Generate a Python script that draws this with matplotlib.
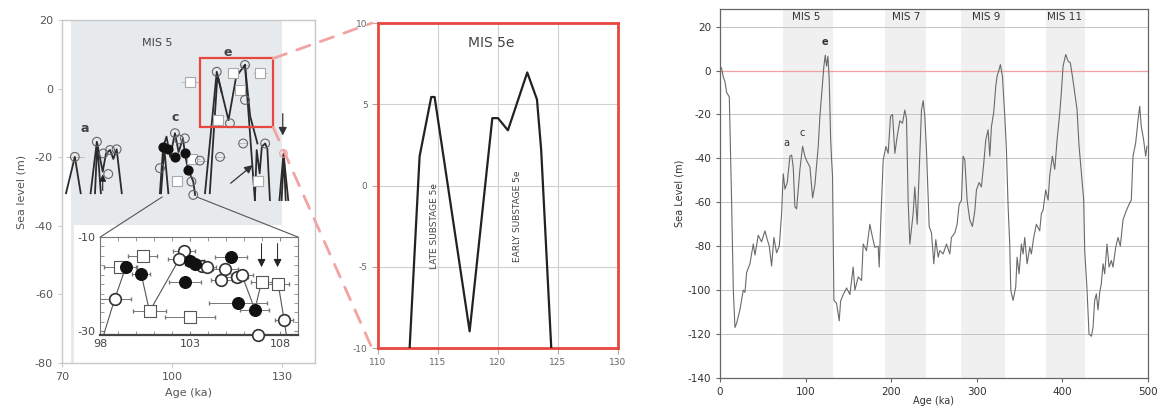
import matplotlib.pyplot as plt
from matplotlib.patches import Rectangle, ConnectionPatch

plt.rcParams['axes.unicode_minus'] = False

# ---- left panel: MIS 5 sea level indicators (schematic) ----
a1_age = [71.1, 73.5, 75.1]
a1_sl = [-30.5, -19.9, -30.5]
a2_age = [77.8, 79.5, 81.1, 82.0, 83.1, 84.0, 84.9, 86.3]
a2_sl = [-30.5, -15.5, -24.2, -18.9, -17.9, -20.5, -17.7, -30.5]
a3_age = [79.0, 79.6, 80.6]
a3_sl = [-30.5, -16.0, -30.5]
c1_age = [96.7, 97.6, 98.5, 99.5, 100.8, 101.8, 103.0, 103.5, 104.4, 105.8, 106.3]
c1_sl = [-30.5, -16.9, -14.0, -19.9, -13.0, -18.5, -14.5, -18.9, -23.7, -27.1, -31.0]
c2_age = [97.0, 97.9, 99.0]
c2_sl = [-30.5, -17.5, -30.5]
e1_age = [109.0, 112.2, 115.4, 117.5, 119.9, 122.6]
e1_sl = [-30.5, 4.9, -9.2, 3.5, 6.9, -32.5]
e2_age = [110.3, 112.4, 113.5]
e2_sl = [-30.5, 4.0, -1.0]
e3_age = [119.9, 121.3, 123.3]
e3_sl = [6.9, -8.0, -16.0]
r1_age = [122.6, 123.1, 123.9, 124.5, 125.4, 126.0, 126.7]
r1_sl = [-32.5, -17.9, -24.7, -16.9, -16.0, -17.5, -32.5]
f1_age = [129.3, 130.4, 131.7]
f1_sl = [-32.5, -18.9, -32.5]
f2_age = [129.9, 130.5, 131.0]
f2_sl = [-32.5, -19.5, -32.5]

open_age = [73.5, 79.5, 81.3, 83.1, 84.9, 82.6, 100.8, 103.5, 96.7, 105.8, 105.3,
            101.9, 112.2, 119.9, 119.9, 115.8, 119.4, 113.1, 107.6, 125.4]
open_sl = [-19.9, -15.5, -18.9, -17.9, -17.7, -24.9, -13.0, -14.5, -23.2, -31.0, -27.1,
           -14.8, 4.9, 6.9, -3.3, -10.1, -16.0, -19.9, -21.0, -16.0]
open_err = [2.5, 0, 0, 0, 0, 0, 0, 0, 0, 0, 0, 0, 0, 1.5, 0, 0, 1.0, 1.5, 2.0, 0]
fill_age = [97.6, 100.8, 104.4, 103.5, 99.0]
fill_sl = [-16.9, -19.9, -23.7, -18.9, -17.5]
sq_age = [104.9, 124.0, 118.5, 112.5, 116.7, 101.3, 105.5, 123.5]
sq_sl = [2.0, 4.5, -0.4, -9.2, 4.5, -27.0, -20.5, -27.0]
sq_err = [2.5, 2.0, 1.5, 1.5, 1.5, 1.5, 2.0, 1.5]

# ---- inset: MIS 5c detail ----
in_fill_age = [99.43, 100.29, 102.73, 103.0, 103.3, 105.29, 105.66, 106.6]
in_fill_sl = [-16.4, -17.9, -19.6, -15.0, -15.8, -14.2, -24.0, -25.4]
in_fill_err = [0.6, 0.5, 0.9, 0.8, 0.6, 0.9, 1.6, 0.8]
in_open_age = [98.82, 102.67, 102.4, 103.68, 103.95, 104.96, 104.74, 105.6, 105.88, 108.22, 106.75]
in_open_sl = [-23.1, -13.0, -14.7, -16.1, -16.3, -16.7, -19.1, -18.4, -18.1, -27.6, -30.7]
in_open_err = [0.9, 0.6, 0.6, 0.5, 0.5, 0.7, 0.6, 0.6, 0.6, 0.5, 0.0]
in_sq_age = [100.38, 99.1, 100.75, 103.0, 106.97, 107.9]
in_sq_sl = [-14.0, -16.3, -25.8, -26.9, -19.5, -20.0]
in_sq_err = [0.8, 0.9, 0.9, 1.4, 0.6, 0.6]
in_l1_age = [98.2, 98.82, 99.43]
in_l1_sl = [-30.8, -23.1, -16.4]
in_l2_age = [100.29, 100.75, 102.4]
in_l2_sl = [-17.9, -25.8, -14.7]
in_l3_age = [105.88, 106.6, 106.97]
in_l3_sl = [-18.1, -25.4, -19.5]
in_l4_age = [107.9, 108.22, 108.35]
in_l4_sl = [-20.0, -27.6, -30.8]
in_arrow_age = [106.97, 107.86]

# ---- middle panel: MIS 5e ----
mis5e_age = [112.64, 113.47, 114.44, 114.72, 117.64, 119.53, 120.0, 120.83, 122.44, 123.25, 123.6, 124.44]
mis5e_sl = [-10.0, 1.8, 5.45, 5.45, -8.97, 4.15, 4.15, 3.4, 6.96, 5.3, 2.2, -10.0]

# ---- right panel: 500 kyr sea level curve ----
age = [0, 1.9, 3.9, 5.8, 7.8, 10.9, 13.6, 15.6, 17.5, 19.5, 23.3, 27.2, 29.2, 31.1, 35, 38.9,
       40.9, 44.7, 48.6, 52.5, 55.3, 57.6, 60.3, 63, 66.1, 69.3, 72, 73.9, 75.9, 78.6, 81.7,
       83.7, 85.6, 87.5, 89.5, 93.4, 96.5, 99.2, 101.2, 105.1, 108.2, 110.9, 114.8, 116.7,
       119.8, 121.4, 123, 124.5, 126.1, 127.6, 129.2, 130.4, 131.5, 133.1, 136.2, 139.3,
       140.9, 144, 147.9, 151.8, 155.6, 157.6, 161.5, 165.4, 167.3, 171.2, 175.1, 178.2,
       180.9, 184.8, 186, 187.9, 190.7, 193.8, 196.5, 199.2, 201.6, 204.3, 207, 210.1,
       213.2, 215.9, 217.9, 219.8, 221.8, 225.7, 227.6, 230.4, 235.4, 237.4, 239.3, 241.2,
       244.4, 247.1, 249.8, 252.1, 254.9, 256.8, 260.7, 264.6, 268.5, 270.4, 274.3, 277,
       279.4, 282.1, 284, 286, 288.7, 291.8, 294.9, 297.7, 299.6, 302.7, 305.4, 308.2,
       310.5, 313.2, 315.2, 317.1, 319.8, 322.2, 323.7, 326.1, 327.6, 330, 332.7, 334.6,
       336.6, 338.5, 339.7, 342.4, 345.5, 347.1, 349.4, 352.1, 354.1, 356, 358.8, 361.9,
       363.8, 366.5, 369.6, 373.5, 375.5, 377.4, 380.5, 383.3, 385.2, 388.3, 391.1, 393.8,
       396.9, 398.8, 400.8, 403.9, 406.6, 409.3, 411.7, 414.4, 417.1, 419.5, 422.2, 424.9,
       426.1, 428.8, 431.1, 433.9, 435.8, 437.7, 439.7, 441.6, 443.6, 445.5, 447.5, 449.4,
       452.1, 454.5, 457.2, 459.1, 462.3, 465, 467.7, 470.8, 474.7, 477.8, 480.5, 482.5,
       485.6, 488.3, 490.3, 492.2, 494.9, 497.3, 498.8]
sea_level = [2, 1, -3, -5, -10, -12, -60, -100, -117, -115, -109, -100, -101, -92, -88, -79,
             -84, -75, -78, -73, -77, -80, -89, -76, -83, -80, -65, -47, -54, -51, -39,
             -38.5, -44, -62, -63, -45, -34.5, -39, -41, -44, -58, -52, -34.5, -21,
             -5.6, 2, 7, 2, 6.5, -4, -30, -40.7, -48, -104.7, -106, -114,
             -105, -102, -99, -102, -89.5, -100, -94, -95.6, -79, -82, -70, -76,
             -80.5, -80, -89.5, -68, -40.7, -34.6, -37.7, -21, -20, -37.7, -30, -22.9,
             -24, -18, -22, -59, -79, -65, -53, -70, -18, -13.7, -21, -36,
             -71, -74, -88, -77, -85, -82, -83.5, -79, -83.5, -76, -74, -70,
             -61, -59, -39, -40.7, -59, -68, -71, -64, -54.4, -51, -53, -42,
             -31.6, -27, -39, -25.6, -19, -7, -2.6, 0.5, 2.7, -2.6, -20.7, -36,
             -62, -79, -100, -104.7, -98.6, -85, -92.6, -79, -83.5, -76, -88, -80.5,
             -83.5, -76, -70, -73, -65, -63.8, -54.4, -59, -48, -39, -45, -31.6,
             -19.4, -10, 2, 7.3, 4.3, 3.5, -2.6, -10, -17.7, -34.5, -46.6, -59,
             -82, -100, -120, -121, -117, -104.7, -101.7, -109, -101, -97, -88, -92.6,
             -79, -89.5, -86.5, -89.5, -80.5, -76, -80, -68, -63.8, -61, -59, -39,
             -33, -22.9, -16.3, -25.6, -31.6, -39, -34.5]
mis_names = ['MIS 5', 'MIS 7', 'MIS 9', 'MIS 11']
mis_start = [74, 193, 282, 381]
mis_end = [132, 241, 333, 426]
mis_label_x = [101, 218, 311, 403]

fig = plt.figure(figsize=(11.59, 4.15), dpi=100)
fig.patch.set_facecolor('white')

tick_col = '#555555'

# ================= left panel =================
ax1 = fig.add_axes([0.0535, 0.1253, 0.2183, 0.8265])
ax1.set_xlim(70, 139)
ax1.set_ylim(-80, 20)
ax1.axvspan(72.5, 130, color='#e6eaed', zorder=0, lw=0)
ax1.add_patch(Rectangle((73.2, -80), 70, 40.2, facecolor='white', edgecolor='none', zorder=0.5))
for s in ax1.spines.values():
    s.set_color('#c8c8c8')
    s.set_linewidth(1.0)
ax1.set_xticks([70, 100, 130])
ax1.set_yticks([20, 0, -20, -40, -60, -80])
ax1.tick_params(labelsize=8, colors='#cccccc', labelcolor=tick_col, length=3)
ax1.set_xlabel('Age (ka)', fontsize=8, color=tick_col, labelpad=4)
ax1.set_ylabel('Sea level (m)', fontsize=8, color=tick_col, labelpad=6)

lines1 = [(a1_age, a1_sl), (a2_age, a2_sl), (a3_age, a3_sl), (c1_age, c1_sl), (c2_age, c2_sl),
          (e1_age, e1_sl), (e2_age, e2_sl), (e3_age, e3_sl), (r1_age, r1_sl),
          (f1_age, f1_sl), (f2_age, f2_sl)]
for xs, ys in lines1:
    ax1.plot(xs, ys, color='#2b2b2b', lw=1.3, zorder=2)
ax1.errorbar(sq_age, sq_sl, xerr=sq_err, fmt='none', ecolor='#bbbbbb', elinewidth=0.7, zorder=1.5)
ax1.errorbar(open_age, open_sl, xerr=open_err, fmt='none', ecolor='#bbbbbb', elinewidth=0.7, zorder=1.5)
ax1.scatter(sq_age, sq_sl, marker='s', s=45, facecolor='white', edgecolor='#aaaaaa', lw=0.8, zorder=3)
ax1.scatter(open_age, open_sl, marker='o', s=40, facecolor='none', edgecolor='#666666', lw=0.8, zorder=3)
ax1.scatter(fill_age, fill_sl, marker='o', s=40, facecolor='#111111', edgecolor='#111111', zorder=3)
ax1.scatter([130.4], [-18.9], marker='o', s=30, facecolor='none', edgecolor='#e8a0a0', lw=0.8, zorder=3)
ax1.annotate('', xy=(81.1, -24.2), xytext=(81.1, -30.5),
             arrowprops=dict(arrowstyle='-|>', color='#222222', lw=0.8, mutation_scale=10), zorder=3)
ax1.annotate('', xy=(122.6, -21.8), xytext=(115.4, -28.1),
             arrowprops=dict(arrowstyle='-|>', color='#333333', lw=0.9, mutation_scale=12), zorder=3)
ax1.annotate('', xy=(130.2, -14.5), xytext=(130.2, -6.5),
             arrowprops=dict(arrowstyle='-|>', color='#333333', lw=0.9, mutation_scale=12), zorder=3)

ax1.add_patch(Rectangle((107.6, -11.3), 20.0, 20.1, facecolor='none', edgecolor='#e8473f', lw=1.6, zorder=4))
ax1.text(95.9, 13.3, 'MIS 5', fontsize=8, color='#444444', ha='center', va='center')
ax1.text(76.3, -11.5, 'a', fontsize=9, fontweight='bold', color='#444444', ha='center', va='center')
ax1.text(100.8, -8.3, 'c', fontsize=9, fontweight='bold', color='#444444', ha='center', va='center')
ax1.text(115.1, 10.5, 'e', fontsize=9, fontweight='bold', color='#444444', ha='center', va='center')
# connectors from cluster c to the inset
ax1.plot([97.3, 80.4], [-31.6, -43.3], color='#555555', lw=0.8, zorder=2, clip_on=False)
ax1.plot([106.8, 134.4], [-31.6, -43.3], color='#555555', lw=0.8, zorder=2, clip_on=False)

# ================= inset =================
axi = fig.add_axes([0.0863, 0.1928, 0.1709, 0.2362])
axi.set_xlim(98, 109)
axi.set_ylim(-30.8, -10)
axi.set_facecolor('white')
for s in axi.spines.values():
    s.set_color('#777777')
    s.set_linewidth(0.8)
axi.spines['bottom'].set_linewidth(1.6)
axi.spines['bottom'].set_color('#444444')
axi.set_xticks([98, 103, 108])
axi.set_xticks(range(98, 110), minor=True)
axi.set_yticks([-10, -30])
axi.set_yticks([-12, -14, -16, -18, -20, -22, -24, -26, -28], minor=True)
axi.tick_params(which='both', direction='in', top=True, right=True, colors='#888888',
                labelcolor='#444444', labelsize=8, length=3, pad=3)
for xs, ys in [(in_l1_age, in_l1_sl), (in_l2_age, in_l2_sl), (in_l3_age, in_l3_sl), (in_l4_age, in_l4_sl)]:
    axi.plot(xs, ys, color='#555555', lw=0.8, zorder=2)
axi.errorbar(in_sq_age, in_sq_sl, xerr=in_sq_err, fmt='none', ecolor='#777777', elinewidth=0.7, capsize=1.5, zorder=2)
axi.errorbar(in_fill_age, in_fill_sl, xerr=in_fill_err, fmt='none', ecolor='#777777', elinewidth=0.7, capsize=1.5, zorder=2)
axi.errorbar(in_open_age, in_open_sl, xerr=in_open_err, fmt='none', ecolor='#777777', elinewidth=0.7, capsize=1.5, zorder=2)
axi.scatter(in_sq_age, in_sq_sl, marker='s', s=70, facecolor='white', edgecolor='#555555', lw=0.8, zorder=3)
axi.scatter(in_open_age, in_open_sl, marker='o', s=70, facecolor='white', edgecolor='#333333', lw=1.2, zorder=3, clip_on=False)
axi.scatter(in_fill_age, in_fill_sl, marker='o', s=70, facecolor='#111111', edgecolor='#111111', zorder=4)
for xa in in_arrow_age:
    axi.annotate('', xy=(xa, -17.0), xytext=(xa, -10.8),
                 arrowprops=dict(arrowstyle='-|>', color='#222222', lw=0.7, mutation_scale=12), zorder=4)

# ================= middle panel =================
ax2 = fig.add_axes([0.3261, 0.1614, 0.2071, 0.783])
ax2.set_xlim(110, 130)
ax2.set_ylim(-10, 10)
ax2.set_xticks([110, 115, 120, 125, 130])
ax2.set_yticks([-10, -5, 0, 5, 10])
ax2.grid(True, color='#d0d0d0', lw=0.8)
for s in ax2.spines.values():
    s.set_color('#e8473f')
    s.set_linewidth(2.0)
ax2.tick_params(labelsize=6.5, colors='#aaaaaa', labelcolor='#666666', length=4)
ax2.plot(mis5e_age, mis5e_sl, color='#222222', lw=1.6, zorder=3)
ax2.text(119.4, 8.8, 'MIS 5e', fontsize=10, color='#444444', ha='center', va='center')
ax2.text(114.7, -2.5, 'LATE SUBSTAGE 5e', rotation=90, fontsize=6.5, color='#444444', ha='center', va='center')
ax2.text(121.6, -1.9, 'EARLY SUBSTAGE 5e', rotation=90, fontsize=6.5, color='#444444', ha='center', va='center')

for ya, yb in [(8.8, 10), (-11.3, -10)]:
    con = ConnectionPatch(xyA=(127.6, ya), coordsA=ax1.transData, xyB=(109.5, yb), coordsB=ax2.transData,
                          color='#f2a3a3', lw=2.0, linestyle=(0, (5, 4)))
    fig.add_artist(con)

# ================= right panel =================
ax3 = fig.add_axes([0.6212, 0.0892, 0.3693, 0.889])
ax3.set_xlim(0, 500)
ax3.set_ylim(-140, 28)
for x0, x1 in zip(mis_start, mis_end):
    ax3.axvspan(x0, x1, color='#f0f0f0', lw=0, zorder=0)
for yv in range(-120, 21, 20):
    ax3.axhline(yv, color='#c4c4c4', lw=0.7, zorder=1)
ax3.axhline(0, color='#f2a0a0', lw=0.9, zorder=1.5)
ax3.plot(age, sea_level, color='#6a6a6a', lw=0.8, zorder=2)
for name, xl in zip(mis_names, mis_label_x):
    ax3.text(xl, 24.5, name, fontsize=7.5, color='#333333', ha='center', va='center')
ax3.text(78, -33, 'a', fontsize=7, color='#333333', ha='center', va='center')
ax3.text(96.5, -28.6, 'c', fontsize=7, color='#333333', ha='center', va='center')
ax3.text(122.6, 13, 'e', fontsize=7, fontweight='bold', color='#333333', ha='center', va='center')
ax3.set_xticks([0, 100, 200, 300, 400, 500])
ax3.set_yticks(list(range(-140, 21, 20)))
for s in ax3.spines.values():
    s.set_color('#666666')
    s.set_linewidth(0.9)
ax3.tick_params(labelsize=7.5, colors='#666666', labelcolor='#333333', length=3)
ax3.set_xlabel('Age (ka)', fontsize=7, color='#333333', labelpad=-1)
ax3.set_ylabel('Sea Level (m)', fontsize=7, color='#333333', labelpad=2)

fig.savefig('out.png', dpi=100)
